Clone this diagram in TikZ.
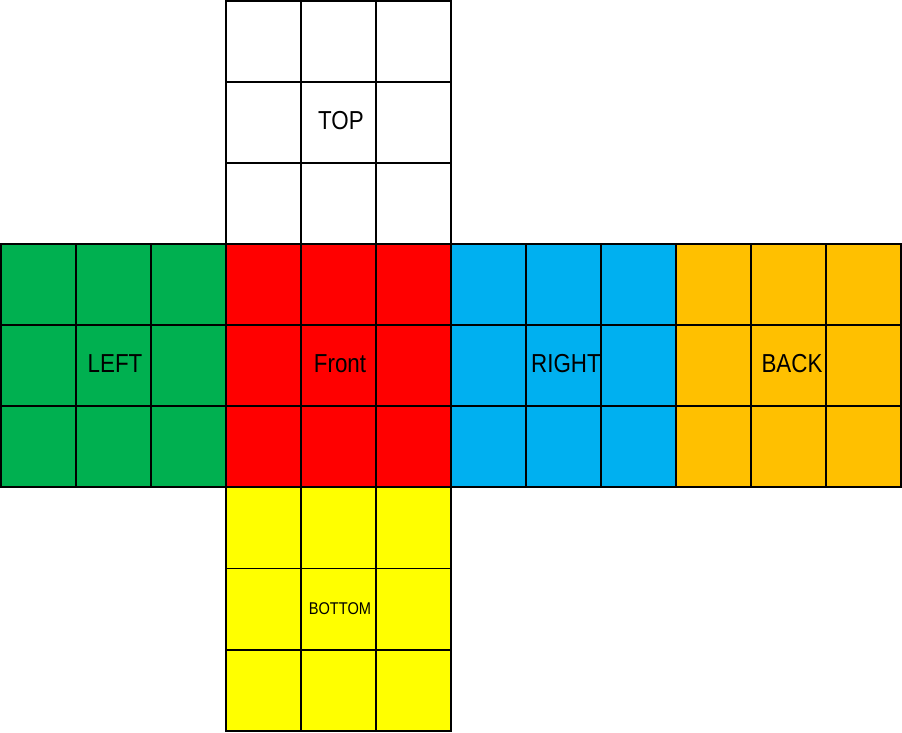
\documentclass[tikz,border=0pt]{standalone}
\usepackage{fontspec}
\newfontfamily\labelfont[FakeStretch=0.86]{Liberation Sans}
\definecolor{leftgreen}{HTML}{00B050}
\definecolor{frontred}{HTML}{FF0000}
\definecolor{rightblue}{HTML}{00B0F0}
\definecolor{backorange}{HTML}{FFC000}
\definecolor{bottomyellow}{HTML}{FFFF00}
\tikzstyle{sticker} = [draw=black, line width=1.9pt]
\tikzstyle{facelabel} = [font=\labelfont\fontsize{26}{26}\selectfont, text=black, inner sep=0pt]
\tikzstyle{smalllabel} = [font=\labelfont\fontsize{17}{17}\selectfont, text=black, inner sep=0pt]

\begin{document}
\begin{tikzpicture}[x=1pt, y=-1pt]
\useasboundingbox (0,0) rectangle (902,732);

%% faces
\foreach \fx/\fy/\col in {225.95/0.8/white, 0.8/244.1/leftgreen,
    225.95/244.1/frontred, 451.1/244.1/rightblue,
    676.25/244.1/backorange, 225.95/487.4/bottomyellow}
  \foreach \i in {0,1,2}
    \foreach \j in {0,1,2}
      \draw [sticker, fill=\col] (\fx+\i*75.05, \fy+\j*81.1)
        rectangle ++(75.05, 81.1);

%% labels
\node (top) [facelabel] at (341,121) {TOP};
\node (left) [facelabel] at (115,364) {LEFT};
\node (front) [facelabel] at (340,364) {Front};
\node (right) [facelabel] at (566,364) {RIGHT};
\node (back) [facelabel] at (792,364) {BACK};
\node (bottom) [smalllabel] at (340,609) {BOTTOM};

\end{tikzpicture}
\end{document}
